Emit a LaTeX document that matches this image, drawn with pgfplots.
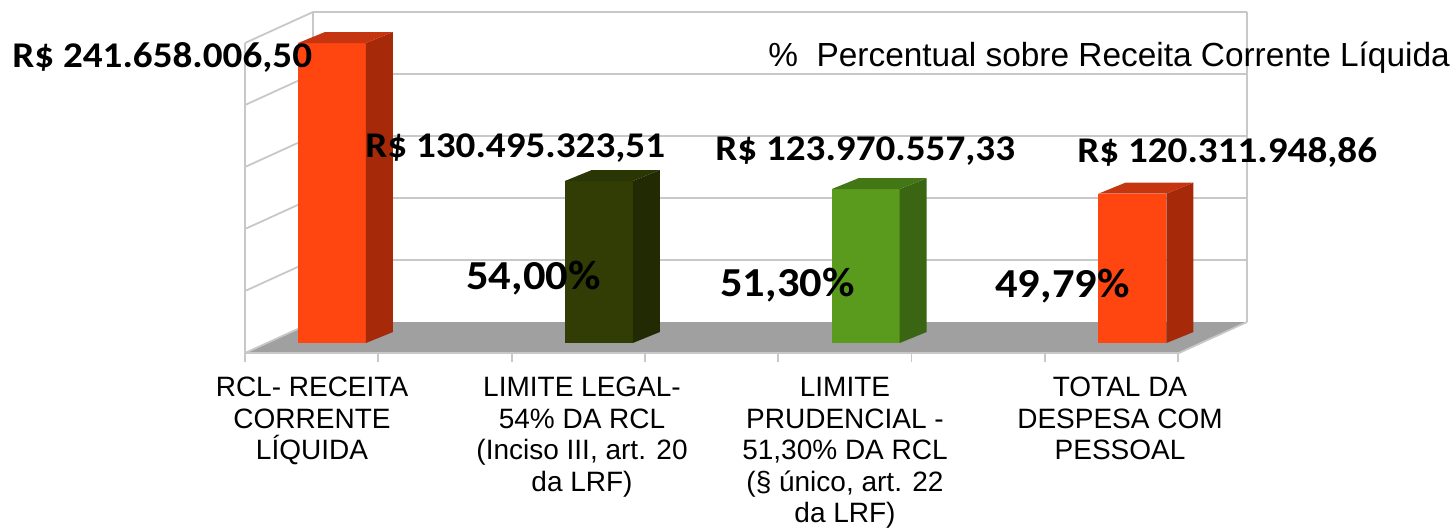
\documentclass[border=0pt]{standalone}
\usepackage{pgfplots}
\usepackage{pgfplotstable}
\pgfplotsset{compat=1.18}
\usepackage{fontspec}
\setmainfont{Liberation Sans}
\newfontfamily\lbl[FakeStretch=1.08]{Carlito}

\definecolor{orF}{HTML}{FF4510}
\definecolor{orS}{HTML}{A62A0A}
\definecolor{orT}{HTML}{C43510}
\definecolor{olF}{HTML}{313D05}
\definecolor{olS}{HTML}{222A04}
\definecolor{olT}{HTML}{2B3605}
\definecolor{grF}{HTML}{5A9B1E}
\definecolor{grS}{HTML}{3A6614}
\definecolor{grT}{HTML}{437716}
\definecolor{wall}{HTML}{C8C8C8}
\definecolor{floor}{HTML}{A0A0A0}

% values in millions of R$
\pgfplotstableread{
x v
0 241.65800650
1 130.49532351
2 123.97055733
3 120.31194886
}\data

\begin{document}
\begin{tikzpicture}
\path[use as bounding box] (0,0) rectangle (727pt,263.5pt);
% ---- walls and floor (pixel scope) ----
\begin{scope}[x=0.5pt,y=-0.5pt,shift={(0pt,263.5pt)}]
  \fill[floor] (313,322) -- (1247,322) -- (1179,353) -- (245,353) -- cycle;
  \draw[wall, line width=0.9pt] (245,353) -- (1179,353) -- (1247,322);
  % back wall grid
  \foreach \yy in {12,74,136,198,260}{
    \draw[wall, line width=0.9pt] (245,\yy+31) -- (313,\yy) -- (1247,\yy);
  }
  \draw[wall, line width=0.9pt] (313,12) -- (313,322);
  \draw[wall, line width=0.9pt] (1247,12) -- (1247,322);
  \draw[wall, line width=0.9pt] (245,43) -- (245,362);
  \draw[wall, line width=0.9pt] (245,353) -- (313,322);
  \foreach \k in {0,...,7}{
    \draw[wall, line width=0.9pt] (245+\k*133.3,353) -- (245+\k*133.3,362);
  }
\end{scope}

\begin{axis}[
  at={(0,0)}, anchor=south west,
  scale only axis, width=727pt, height=263.5pt,
  xmin=-1.2442, xmax=4.2050,
  ymin=-148.22, ymax=276.30,
  hide axis, clip=false,
]
% front faces
\addplot[ybar, bar width=34pt, bar shift=0pt, fill=orF, draw=none] coordinates {(0,241.658)};
\addplot[ybar, bar width=34pt, bar shift=0pt, fill=olF, draw=none] coordinates {(1,130.495)};
\addplot[ybar, bar width=34pt, bar shift=0pt, fill=grF, draw=none] coordinates {(2,123.971)};
\addplot[ybar, bar width=34pt, bar shift=0pt, fill=orF, draw=none] coordinates {(3,120.312)};
% side faces
\addplot[fill=orS, draw=none] coordinates {(0.1274,0) (0.2286,8.861) (0.2286,250.519) (0.1274,241.658)} -- cycle;
\addplot[fill=olS, draw=none] coordinates {(1.1274,0) (1.2286,8.861) (1.2286,139.356) (1.1274,130.495)} -- cycle;
\addplot[fill=grS, draw=none] coordinates {(2.1274,0) (2.2286,8.861) (2.2286,132.832) (2.1274,123.971)} -- cycle;
\addplot[fill=orS, draw=none] coordinates {(3.1274,0) (3.2286,8.861) (3.2286,129.173) (3.1274,120.312)} -- cycle;
% top faces
\addplot[fill=orT, draw=none] coordinates {(-0.1274,241.658) (0.1274,241.658) (0.2286,250.519) (-0.0262,250.519)} -- cycle;
\addplot[fill=olT, draw=none] coordinates {(0.8726,130.495) (1.1274,130.495) (1.2286,139.356) (0.9738,139.356)} -- cycle;
\addplot[fill=grT, draw=none] coordinates {(1.8726,123.971) (2.1274,123.971) (2.2286,132.832) (1.9738,132.832)} -- cycle;
\addplot[fill=orT, draw=none] coordinates {(2.8726,120.312) (3.1274,120.312) (3.2286,129.173) (2.9738,129.173)} -- cycle;
\end{axis}

% ---- texts (pixel scope) ----
\begin{scope}[x=0.5pt,y=-0.5pt,shift={(0pt,263.5pt)}]
  \tikzset{vl/.style={anchor=base west, inner sep=0pt, font=\lbl\bfseries\fontsize{18.1}{20}\selectfont}}
  \tikzset{pl/.style={anchor=base west, inner sep=0pt, font=\lbl\bfseries\fontsize{20.6}{22}\selectfont}}
  \node[vl] at (12,67) {R\$ 241.658.006,50};
  \node[vl] at (365,157) {R\$ 130.495.323,51};
  \node[vl] at (715,160) {R\$ 123.970.557,33};
  \node[vl] at (1077,162) {R\$ 120.311.948,86};
  \node[pl] at (466,289) {54,00\%};
  \node[pl] at (720,296) {51,30\%};
  \node[pl] at (995,297) {49,79\%};
  \node[anchor=base west, inner sep=0pt, font=\fontsize{16.7}{18}\selectfont] at (768,66) {\%\ \ Percentual sobre Receita Corrente Líquida};
  \tikzset{cl/.style={anchor=north, inner sep=0pt, align=center, font=\fontsize{14}{15.75}\selectfont}}
  \node[cl] at (312,377) {RCL- RECEITA\\CORRENTE\\LÍQUIDA};
  \node[cl] at (582,377) {LIMITE LEGAL-\\54\% DA RCL\\(Inciso III, art. 20\\da LRF)};
  \node[cl] at (845,377) {LIMITE\\PRUDENCIAL -\\51,30\% DA RCL\\(\S{} único, art. 22\\da LRF)};
  \node[cl] at (1120,377) {TOTAL DA\\DESPESA COM\\PESSOAL};
\end{scope}
\end{tikzpicture}
\end{document}
